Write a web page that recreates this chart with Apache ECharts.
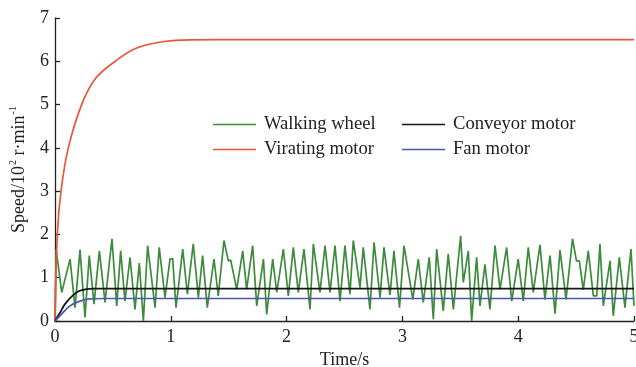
<!DOCTYPE html>
<html><head><meta charset="utf-8">
<script src="https://cdn.jsdelivr.net/npm/echarts@6/dist/echarts.min.js"></script>
<style>html,body{margin:0;padding:0;background:#fff;overflow:hidden}#c{width:636px;height:367px;position:absolute;left:0;top:0}</style>
</head><body><div id="c"></div>
<script>
const seriesNames = ['Walking wheel', 'Virating motor', 'Conveyor motor', 'Fan motor'];
const xTicks = [0, 1, 2, 3, 4, 5];
const yTicks = [0, 1, 2, 3, 4, 5, 6, 7];

const walkingWheel = [
[0,0],[0.01,1.65],[0.058,0.66],[0.13,1.43],[0.173,0.31],[0.216,1.65],[0.259,0.08],[0.296,1.51],
[0.337,0.39],[0.383,1.62],[0.432,0.43],[0.492,1.9],[0.533,0.35],[0.567,1.62],[0.604,0.46],[0.648,1.47],
[0.691,0.27],[0.728,1.34],[0.763,0.0],[0.8,1.74],[0.864,0.31],[0.9,1.7],[0.95,0.54],[0.993,1.43],
[1.016,1.44],[1.045,0.31],[1.103,1.66],[1.143,0.62],[1.194,1.78],[1.238,0.54],[1.275,1.51],[1.315,0.31],
[1.373,1.43],[1.41,0.58],[1.459,1.86],[1.497,1.39],[1.517,1.41],[1.569,0.73],[1.621,1.62],[1.655,0.73],
[1.707,1.74],[1.742,0.35],[1.8,1.43],[1.828,0.15],[1.88,1.43],[1.915,0.66],[1.972,1.66],[2.015,0.58],
[2.058,1.7],[2.101,0.66],[2.15,1.66],[2.202,0.27],[2.231,1.78],[2.288,0.66],[2.332,1.74],[2.375,0.66],
[2.418,1.74],[2.461,0.46],[2.504,1.74],[2.547,0.62],[2.576,1.86],[2.634,0.77],[2.662,1.7],[2.72,0.27],
[2.755,1.82],[2.807,0.54],[2.841,1.7],[2.893,0.6],[2.927,1.62],[2.975,0.31],[3.014,1.74],[3.09,0.5],
[3.137,1.43],[3.18,0.43],[3.232,1.47],[3.267,0.04],[3.296,1.66],[3.353,0.23],[3.396,1.55],[3.44,0.27],
[3.503,1.97],[3.526,0.89],[3.569,1.62],[3.598,0.0],[3.641,1.47],[3.67,0.35],[3.713,1.31],[3.756,0.27],
[3.8,1.74],[3.843,0.73],[3.9,1.7],[3.944,0.46],[4.0,1.43],[4.044,0.46],[4.087,1.7],[4.13,0.66],
[4.188,1.76],[4.231,0.5],[4.275,1.51],[4.318,0.17],[4.361,1.64],[4.413,0.5],[4.469,1.9],[4.503,1.39],
[4.528,1.39],[4.562,0.72],[4.605,1.62],[4.649,0.58],[4.678,0.58],[4.706,1.78],[4.735,0.35],[4.793,1.39],
[4.821,0.12],[4.873,1.47],[4.922,0.31],[4.974,1.66],[5.0,0.35]
];
const viratingMotor = [[0,0],[0.02,2.0],[0.052,3.0],[0.115,4.0],[0.23,5.0],[0.35,5.6],[0.52,6.0],[0.7,6.3],[0.9,6.44],[1.1,6.49],[1.4,6.5],[2.0,6.5],[5.0,6.5]];
const conveyorMotor = [[0,0],[0.043,0.19],[0.086,0.39],[0.15,0.58],[0.216,0.70],[0.33,0.75],[1.0,0.75],[5.0,0.75]];
const fanMotor = [[0,0],[0.043,0.12],[0.13,0.35],[0.216,0.46],[0.3,0.51],[0.45,0.52],[1.0,0.52],[5.0,0.52]];

const font = 'Liberation Serif';
const colors = {'Walking wheel':'#3c8c3c','Virating motor':'#e8563c','Conveyor motor':'#151515','Fan motor':'#4b56b4'};
const chart = echarts.init(document.getElementById('c'), null, {renderer:'canvas',width:636,height:367});
const axisCommon = {
  axisLine:{show:true,onZero:false,lineStyle:{color:'#222',width:1.3}},
  axisTick:{show:true,inside:true,length:5,lineStyle:{color:'#222',width:1.3}},
  splitLine:{show:false}
};
const legendText = {color:'#222',fontFamily:font,fontSize:18.6,padding:[0,0,0,3]};
const icon = 'path://M0,6 L42,6 L42,7.6 L0,7.6 Z';
chart.setOption({
  animation:false,
  grid:{left:55,right:2,top:18,bottom:46,containLabel:false,outerBoundsMode:'none'},
  legend:[
    {data:[seriesNames[0],seriesNames[1]],orient:'vertical',left:208,top:110,itemWidth:43,itemHeight:14,itemGap:6,textStyle:legendText,icon:icon},
    {data:[seriesNames[2],seriesNames[3]],orient:'vertical',left:397,top:110,itemWidth:43,itemHeight:14,itemGap:6,textStyle:legendText,icon:icon}
  ],
  xAxis:Object.assign({type:'value',min:xTicks[0],max:xTicks[xTicks.length-1],interval:1,name:'Time/s',nameLocation:'middle',nameGap:28,
    nameTextStyle:{color:'#222',fontFamily:font,fontSize:18}},axisCommon,{axisLabel:{color:'#222',fontFamily:font,fontSize:18,margin:7}}),
  yAxis:Object.assign({type:'value',min:yTicks[0],max:yTicks[yTicks.length-1],interval:1,name:'{m|Speed/10}{s|2}{m| r·min}{s|-1}',nameLocation:'middle',nameGap:27,
    nameTextStyle:{color:'#222',fontFamily:font,fontSize:18,rich:{m:{fontFamily:font,fontSize:18,color:'#222',lineHeight:20,verticalAlign:'bottom'},s:{fontFamily:font,fontSize:10,color:'#222',lineHeight:20,verticalAlign:'top',padding:[0,0,0,1]}}}},
    axisCommon,{axisLabel:{color:'#222',fontFamily:font,fontSize:18,margin:6}}),
  series:[
    {name:seriesNames[0],type:'line',data:walkingWheel,showSymbol:false,lineStyle:{width:1.7,color:colors['Walking wheel']},itemStyle:{color:colors['Walking wheel']},z:2},
    {name:seriesNames[1],type:'line',data:viratingMotor,smooth:0.4,showSymbol:false,lineStyle:{width:1.7,color:colors['Virating motor']},itemStyle:{color:colors['Virating motor']}},
    {name:seriesNames[2],type:'line',data:conveyorMotor,smooth:0.4,showSymbol:false,lineStyle:{width:1.8,color:colors['Conveyor motor']},itemStyle:{color:colors['Conveyor motor']},z:3},
    {name:seriesNames[3],type:'line',data:fanMotor,smooth:0.4,showSymbol:false,lineStyle:{width:1.7,color:colors['Fan motor']},itemStyle:{color:colors['Fan motor']},z:3}
  ]
});
</script></body></html>
